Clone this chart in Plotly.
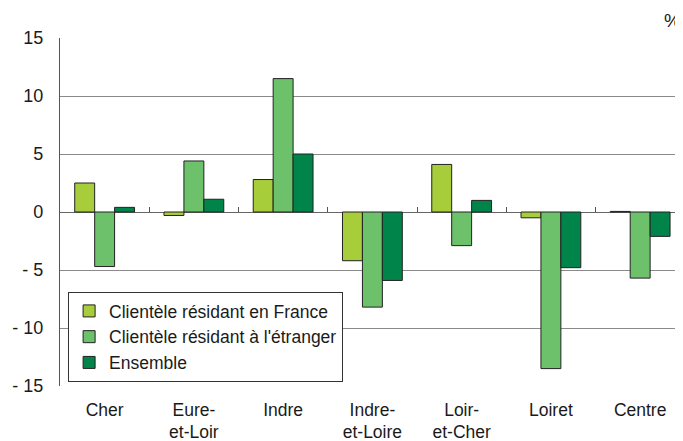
import plotly.graph_objects as go

categories = ["Cher", "Eure-<br>et-Loir", "Indre", "Indre-<br>et-Loire", "Loir-<br>et-Cher", "Loiret", "Centre"]
france = [2.5, -0.3, 2.8, -4.2, 4.1, -0.5, 0.05]
etranger = [-4.7, 4.4, 11.5, -8.2, -2.9, -13.5, -5.7]
ensemble = [0.4, 1.1, 5.0, -5.9, 1.0, -4.8, -2.1]
series_names = ["Clientèle résidant en France", "Clientèle résidant à l'étranger", "Ensemble"]
colors = ["#a8cd3a", "#6cc16a", "#00844a"]
ytickvals = [15, 10, 5, 0, -5, -10, -15]
yticktext = ["15", "10", "5", "0", "- 5", "- 10", "- 15"]
boundaries = [0.5, 1.5, 2.5, 3.5, 4.5, 5.5]

fig = go.Figure()
for name, vals, col in zip(series_names, [france, etranger, ensemble], colors):
    fig.add_trace(go.Bar(x=list(range(len(categories))), y=vals, name=name,
                         marker=dict(color=col, line=dict(color="#222222", width=1))))

fam = "Liberation Sans, Arial, sans-serif"
font = dict(family=fam, size=18, color="#1a1a1a")
xfont = dict(family=fam, size=17.5, color="#1a1a1a")
xr = [-0.5, 6.48]
fig.update_layout(
    width=683, height=441,
    margin=dict(l=52, r=8, t=30, b=63),
    paper_bgcolor="white", plot_bgcolor="white",
    barmode="group", bargap=0.33, bargroupgap=0,
    font=font,
    showlegend=True,
    legend=dict(x=0.013, y=0.27, xanchor="left", yanchor="top",
                bgcolor="white", bordercolor="#333333", borderwidth=1,
                font=dict(family=fam, size=17.5, color="#1a1a1a"),
                tracegroupgap=0, itemwidth=30),
    xaxis=dict(range=xr, tickmode="array", tickvals=list(range(len(categories))),
               ticktext=categories, showgrid=False, zeroline=False, showline=False,
               ticks="", ticklabelstandoff=11, tickfont=xfont, automargin=False),
    xaxis2=dict(range=xr, overlaying="x", anchor="free", position=0.5, side="bottom",
                tickmode="array", tickvals=boundaries,
                showticklabels=False, ticks="inside", ticklen=5, tickwidth=1.2, tickcolor="#555555",
                showgrid=False, zeroline=False, showline=False, automargin=False),
    yaxis=dict(range=[-15, 15], tickmode="array", tickvals=ytickvals, ticktext=yticktext,
               showgrid=True, gridcolor="#8a8a8a", gridwidth=1.2,
               zeroline=True, zerolinecolor="#666666", zerolinewidth=1.2,
               showline=True, linecolor="#555555", linewidth=1.2,
               ticks="", ticklabelstandoff=12, tickfont=font, automargin=False),
    annotations=[dict(text="%", x=1, y=1, xref="paper", yref="paper", xanchor="right",
                      yanchor="middle", yshift=18, xshift=0, showarrow=False,
                      font=dict(family=fam, size=19, color="#1a1a1a"))],
)
fig.add_trace(go.Scatter(x=boundaries, y=[0] * len(boundaries), xaxis="x2", mode="markers",
                         marker=dict(opacity=0), showlegend=False, hoverinfo="skip"))
fig.write_html("out.html")
